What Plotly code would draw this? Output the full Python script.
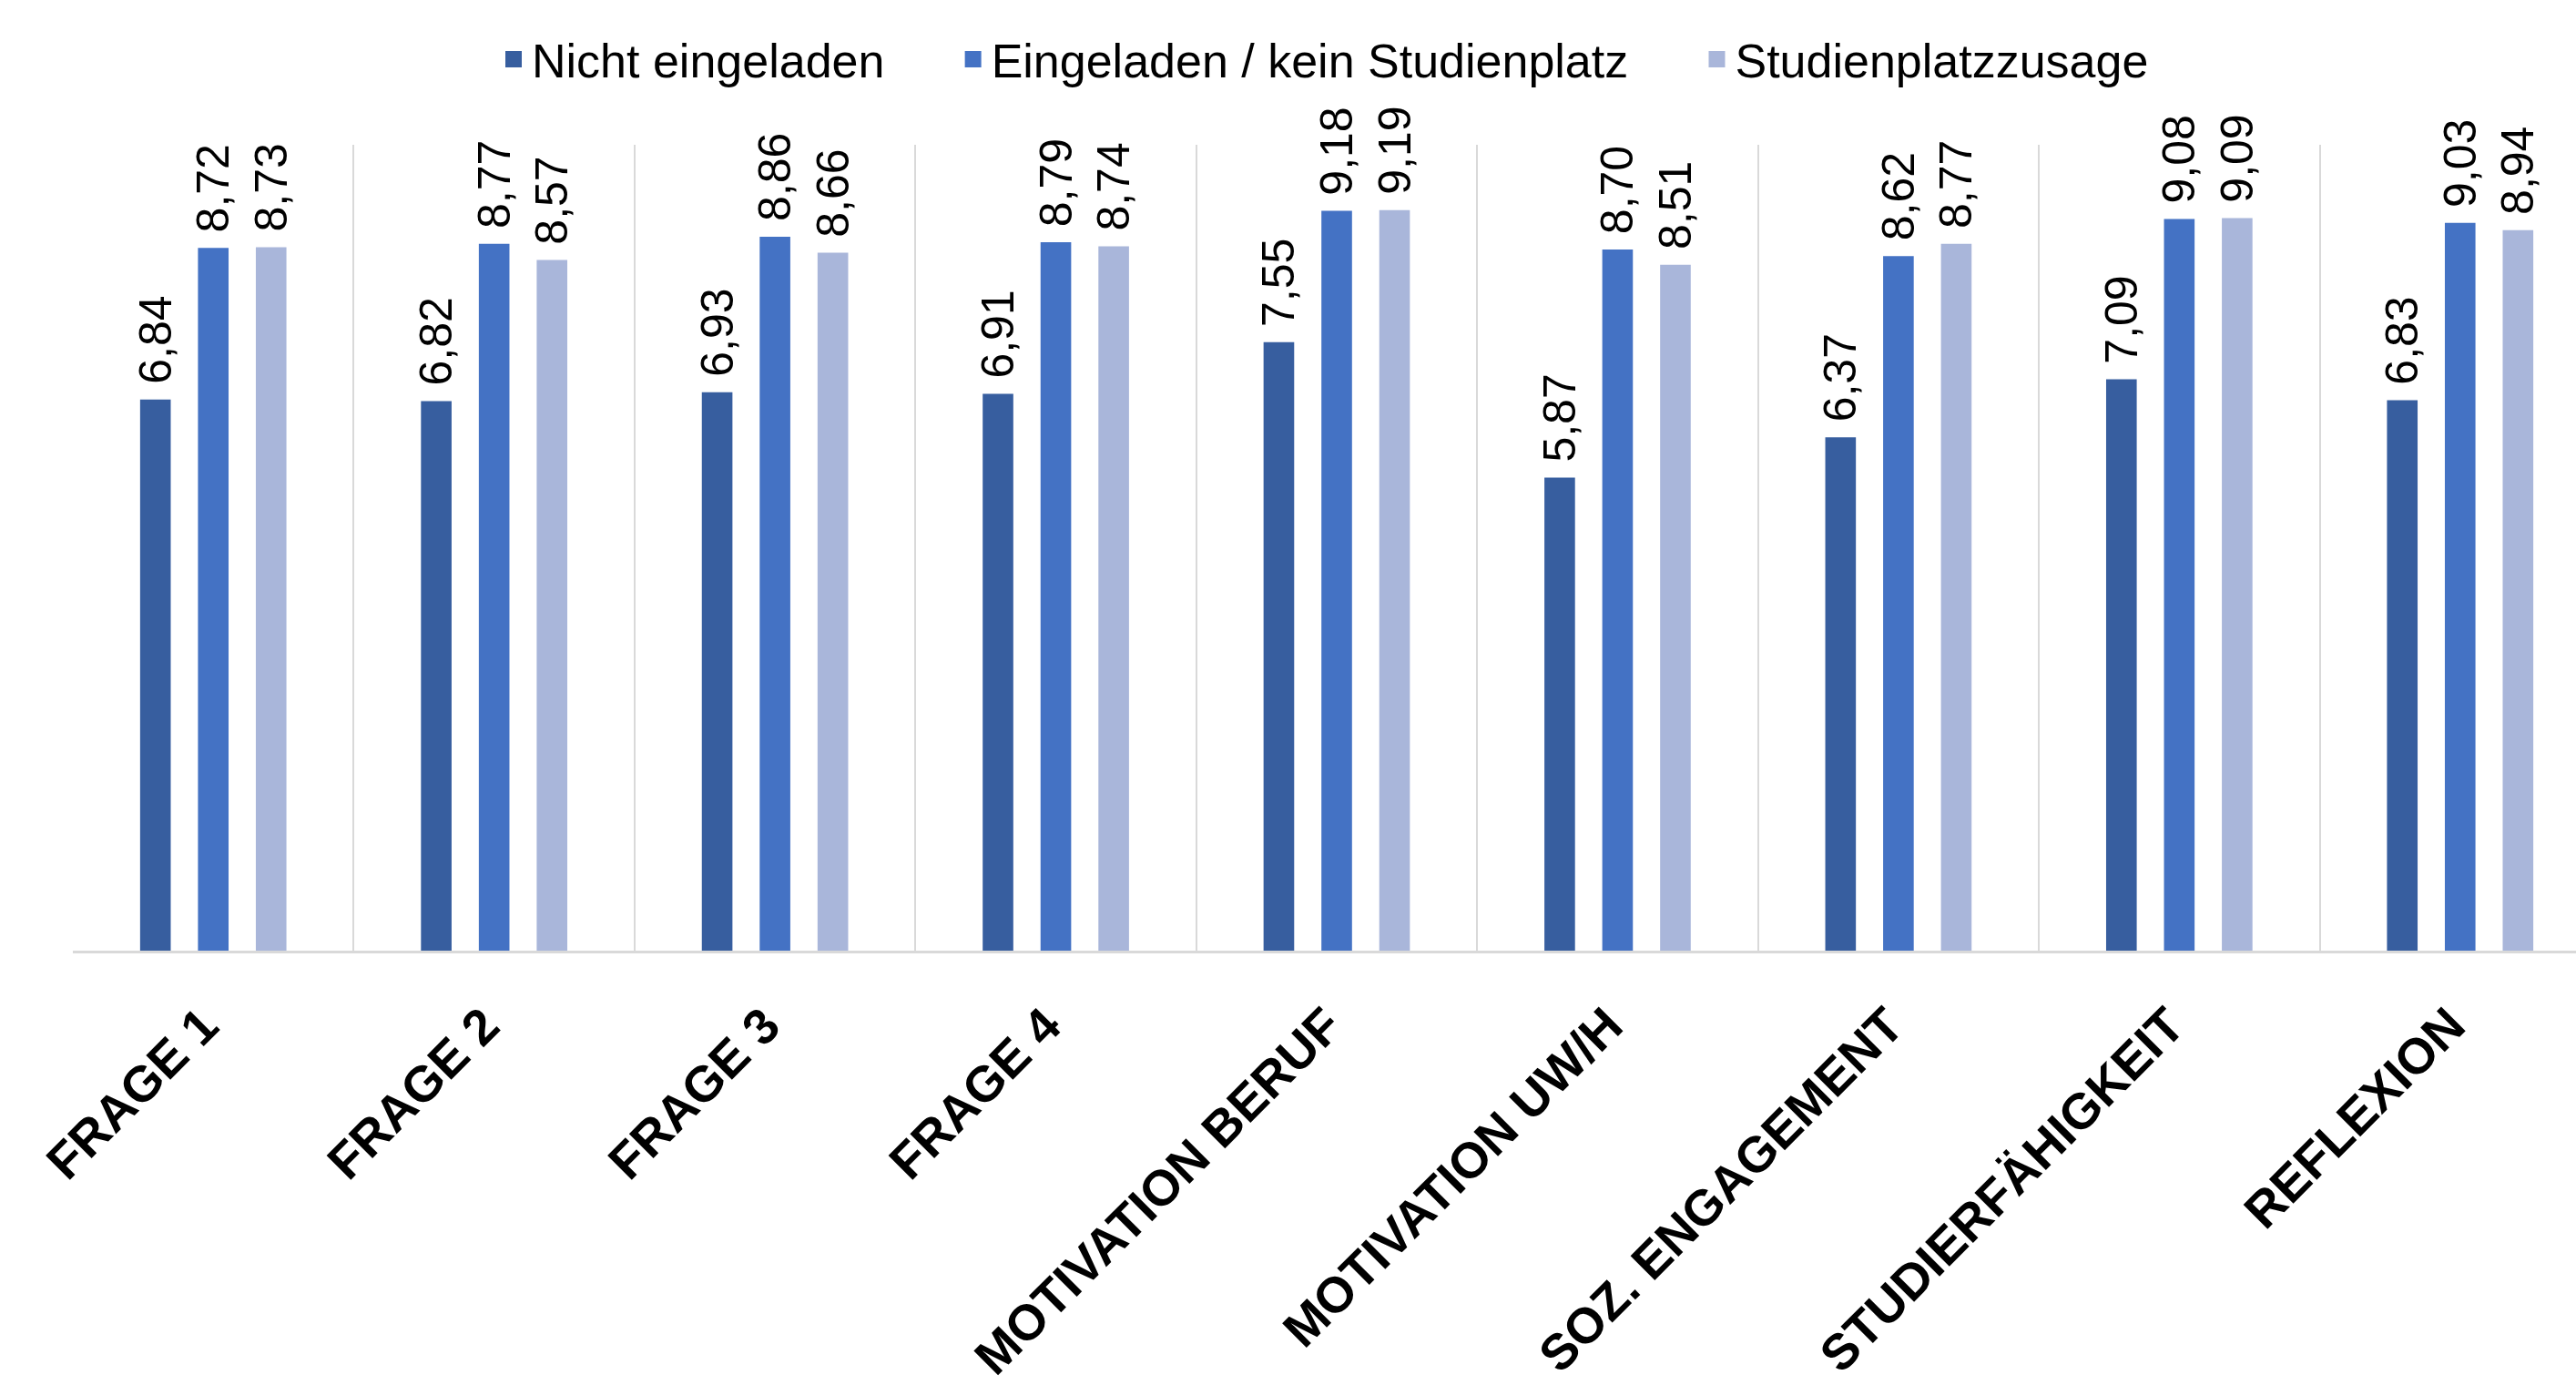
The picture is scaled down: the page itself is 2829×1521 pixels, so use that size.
import plotly.graph_objects as go

categories = ["FRAGE 1", "FRAGE 2", "FRAGE 3", "FRAGE 4", "MOTIVATION BERUF",
              "MOTIVATION UW/H", "SOZ. ENGAGEMENT", "STUDIERFÄHIGKEIT", "REFLEXION"]
series_names = ["Nicht eingeladen", "Eingeladen / kein Studienplatz", "Studienplatzzusage"]
nicht_eingeladen = [6.84, 6.82, 6.93, 6.91, 7.55, 5.87, 6.37, 7.09, 6.83]
eingeladen_kein_platz = [8.72, 8.77, 8.86, 8.79, 9.18, 8.70, 8.62, 9.08, 9.03]
studienplatzzusage = [8.73, 8.57, 8.66, 8.74, 9.19, 8.51, 8.77, 9.09, 8.94]

series_values = [nicht_eingeladen, eingeladen_kein_platz, studienplatzzusage]
colors = ["#375E9F", "#4472C4", "#A9B6DA"]

FONT = "Liberation Sans, Arial, sans-serif"
NBSP = "\u00a0"
W, H = 2829, 1521
left, top, bottom = 79.5, 158.5, 1047
cat_px = 308.5

bar_w = 0.109
step = 0.206
offsets = [-step - bar_w / 2, -bar_w / 2, step - bar_w / 2]

fig = go.Figure()
for name, vals, col, off in zip(series_names, series_values, colors, offsets):
    fig.add_trace(go.Bar(
        x=categories, y=vals, name=name, showlegend=False,
        width=bar_w, offset=off,
        marker=dict(color=col, line=dict(width=0)),
        texttemplate=NBSP + "%{y:.2f}", textposition="outside", textangle=-90,
        constraintext="none", cliponaxis=False,
        textfont=dict(family=FONT, size=50, color="#000000"),
        hoverinfo="skip",
    ))

# legend entries (square markers)
legend_pad = [NBSP * 5, NBSP * 5, ""]
for name, col, pad in zip(series_names, colors, legend_pad):
    fig.add_trace(go.Scatter(
        x=[None], y=[None], mode="markers", name=name + pad, showlegend=True,
        marker=dict(symbol="square", size=16, color=col, line=dict(color=col, width=2)),
    ))

x_end = -0.5 + (W - left) / cat_px

fig.update_layout(
    width=W, height=H,
    margin=dict(l=left, r=0, t=top, b=H - bottom, pad=0),
    paper_bgcolor="white", plot_bgcolor="white",
    barmode="overlay",
    separators=",.",
    font=dict(family=FONT, color="#000000"),
    legend=dict(orientation="h", x=0.5, xanchor="center", y=1.106, yanchor="middle",
                font=dict(family=FONT, size=52, color="#000000"),
                bgcolor="rgba(0,0,0,0)", itemwidth=30, itemsizing="trace",
                traceorder="normal"),
    xaxis=dict(
        type="category", categoryorder="array", categoryarray=categories,
        tickmode="array", tickvals=categories,
        ticktext=[c + NBSP for c in categories],
        range=[-0.5, x_end], tickson="boundaries",
        showgrid=True, gridcolor="#D9D9D9", gridwidth=2,
        showline=True, linecolor="#D9D9D9", linewidth=3,
        ticks="", tickangle=-45, ticklabelstandoff=14,
        tickfont=dict(family=FONT, size=55, color="#000000", weight="bold"),
        zeroline=False, fixedrange=True,
    ),
    yaxis=dict(range=[0, 10], visible=False, showgrid=False, zeroline=False, fixedrange=True),
)

fig.write_html("out.html")
